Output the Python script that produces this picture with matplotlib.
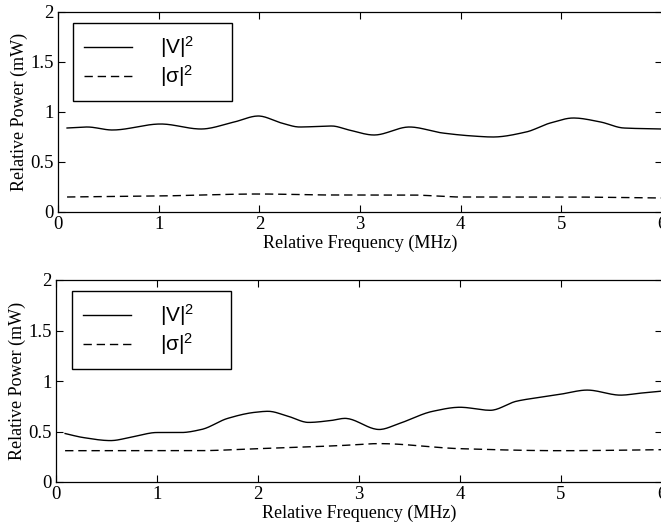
import numpy as np
import matplotlib
matplotlib.use("Agg")
import matplotlib.pyplot as plt

# ---- data ----
top_v_x = [0.09, 0.29, 0.54, 1.02, 1.42, 1.75, 1.99, 2.22, 2.40, 2.72, 2.89, 3.14, 3.49, 3.82, 4.12, 4.32, 4.65, 4.89, 5.12, 5.39, 5.62, 6.0]
top_v_y = [0.84, 0.85, 0.82, 0.88, 0.83, 0.90, 0.96, 0.89, 0.85, 0.86, 0.82, 0.77, 0.85, 0.79, 0.76, 0.75, 0.80, 0.89, 0.94, 0.90, 0.84, 0.83]
top_s_x = [0.09, 1.0, 2.0, 2.72, 3.5, 4.0, 5.0, 6.0]
top_s_y = [0.15, 0.16, 0.18, 0.17, 0.17, 0.15, 0.15, 0.14]

bot_v_x = [0.09, 0.27, 0.54, 0.77, 1.0, 1.24, 1.44, 1.70, 1.97, 2.10, 2.30, 2.50, 2.73, 2.86, 3.20, 3.40, 3.73, 4.0, 4.30, 4.56, 4.80, 5.0, 5.26, 5.59, 5.79, 6.0]
bot_v_y = [0.48, 0.44, 0.41, 0.45, 0.49, 0.49, 0.52, 0.63, 0.69, 0.70, 0.65, 0.59, 0.61, 0.63, 0.52, 0.58, 0.70, 0.74, 0.71, 0.80, 0.84, 0.87, 0.91, 0.86, 0.88, 0.90]
bot_s_x = [0.09, 1.4, 2.0, 2.8, 3.2, 4.0, 5.0, 6.0]
bot_s_y = [0.31, 0.31, 0.33, 0.36, 0.38, 0.33, 0.31, 0.32]

x_ticks = [0, 1, 2, 3, 4, 5, 6]
y_ticks = [0, 0.5, 1, 1.5, 2]
y_tick_labels = ["0", "0.5", "1", "1.5", "2"]
legend_labels = ["|V|$^2$", "|σ|$^2$"]
xlabel = "Relative Frequency (MHz)"
ylabel = "Relative Power (mW)"

plt.rcParams['font.family'] = ['Liberation Serif', 'DejaVu Serif']
plt.rcParams['mathtext.default'] = 'regular'

W, H = 661, 529
fig = plt.figure(figsize=(W / 100, H / 100), dpi=100)

def px_axes(l, t, r, b):
    return [l / W, (H - b) / H, (r - l) / W, (b - t) / H]

def smooth(x, y):
    x = np.asarray(x, float); y = np.asarray(y, float)
    xs = np.linspace(x[0], x[-1], 400)
    h = np.diff(x); d = np.diff(y) / h
    m = np.zeros_like(y)
    for i in range(1, len(y) - 1):
        if d[i - 1] * d[i] > 0:
            w1 = 2 * h[i] + h[i - 1]; w2 = h[i] + 2 * h[i - 1]
            m[i] = (w1 + w2) / (w1 / d[i - 1] + w2 / d[i])
    m[0] = d[0]; m[-1] = d[-1]
    idx = np.clip(np.searchsorted(x, xs) - 1, 0, len(x) - 2)
    t = (xs - x[idx]) / h[idx]
    h00 = 2 * t**3 - 3 * t**2 + 1; h10 = t**3 - 2 * t**2 + t
    h01 = -2 * t**3 + 3 * t**2; h11 = t**3 - t**2
    ys = h00 * y[idx] + h10 * h[idx] * m[idx] + h01 * y[idx + 1] + h11 * h[idx] * m[idx + 1]
    return xs, ys

def make(ax, vx, vy, sx, sy, leg_px):
    l1, = ax.plot(*smooth(vx, vy), color='black', lw=1.0)
    l2, = ax.plot(*smooth(sx, sy), color='black', lw=1.0, linestyle=(0, (6, 3.5)))
    ax.set_xlim(0, 6)
    ax.set_ylim(0, 2)
    ax.set_xticks(x_ticks)
    ax.set_xticklabels([str(v) for v in x_ticks])
    ax.set_yticks(y_ticks)
    ax.set_yticklabels(y_tick_labels)
    ax.tick_params(direction='in', top=True, right=True, length=5, width=0.8,
                   labelsize=13.5, pad=3)
    for s in ax.spines.values():
        s.set_linewidth(0.9)
    ax.set_xlabel(xlabel, fontsize=13, labelpad=1)
    ax.set_ylabel(ylabel, fontsize=13, labelpad=2)
    pos = ax.get_position()
    l, t, r, b = leg_px
    x0 = (l / W - pos.x0) / pos.width
    x1 = (r / W - pos.x0) / pos.width
    y1 = ((H - t) / H - pos.y0) / pos.height
    y0 = ((H - b) / H - pos.y0) / pos.height
    leg = ax.legend([l1, l2], legend_labels, loc='upper left',
                    bbox_to_anchor=(x0, y0, x1 - x0, y1 - y0), mode='expand',
                    borderaxespad=0, fancybox=False, edgecolor='black',
                    framealpha=1, handlelength=2.3, handletextpad=1.35,
                    borderpad=0.55, labelspacing=0.15,
                    prop={'family': 'Liberation Sans', 'size': 15})
    leg.get_frame().set_linewidth(1.0)

ax1 = fig.add_axes(px_axes(58, 12, 662, 212))
make(ax1, top_v_x, top_v_y, top_s_x, top_s_y, (73, 23, 232, 99))
ax2 = fig.add_axes(px_axes(56, 280, 662, 482))
make(ax2, bot_v_x, bot_v_y, bot_s_x, bot_s_y, (72, 291, 231, 368))

fig.savefig("out.png", dpi=100)
